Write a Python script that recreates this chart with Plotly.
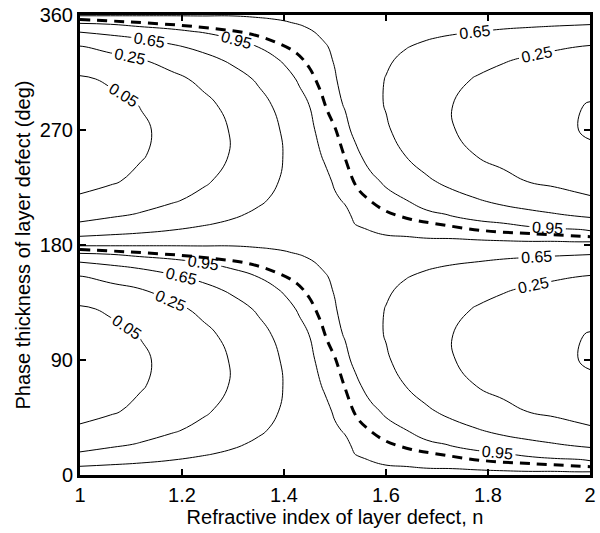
import plotly.graph_objects as go

# Contour levels drawn on the map
levels = [0.05, 0.25, 0.65, 0.95]

# Grid of the mapped quantity: refractive index (columns) by phase thickness (rows, deg).
# The map repeats every 180 deg of phase, so one half-period of rows is listed.
n_grid = [1.00, 1.06, 1.12, 1.18, 1.24, 1.30, 1.35, 1.40, 1.43, 1.46, 1.48, 1.50,
          1.52, 1.54, 1.57, 1.60, 1.64, 1.68, 1.73, 1.78, 1.83, 1.88, 1.93, 1.97, 2.00]
phase_rows = [0, 4, 8, 12, 17, 24, 35, 50, 70, 90, 110, 130, 145, 155, 162, 167,
              171, 174, 177]
value_rows = [
    [0.94, 0.94, 0.94, 0.94, 0.94, 0.94, 0.93, 0.92, 0.91, 0.905, 0.89, 0.88, 0.88, 0.89, 0.90, 0.90, 0.90, 0.90, 0.90, 0.90, 0.90, 0.90, 0.90, 0.90, 0.90],
    [0.79, 0.82, 0.84, 0.86, 0.88, 0.90, 0.92, 0.93, 0.94, 0.94, 0.90, 0.88, 0.885, 0.90, 0.91, 0.92, 0.93, 0.94, 0.94, 0.95, 0.96, 0.97, 0.97, 0.98, 0.98],
    [0.59, 0.65, 0.70, 0.75, 0.80, 0.85, 0.88, 0.91, 0.92, 0.93, 0.90, 0.89, 0.89, 0.91, 0.935, 0.952, 0.96, 0.97, 0.98, 0.99, 0.99, 0.99, 0.99, 0.99, 0.99],
    [0.42, 0.49, 0.56, 0.64, 0.71, 0.78, 0.84, 0.88, 0.91, 0.93, 0.90, 0.89, 0.90, 0.93, 0.955, 0.96, 0.98, 0.99, 0.99, 0.99, 0.99, 0.99, 0.97, 0.96, 0.94],
    [0.27, 0.34, 0.42, 0.51, 0.61, 0.70, 0.78, 0.85, 0.89, 0.92, 0.90, 0.90, 0.91, 0.955, 0.97, 0.98, 0.99, 0.99, 0.99, 0.98, 0.951, 0.91, 0.87, 0.83, 0.80],
    [0.14, 0.20, 0.27, 0.36, 0.47, 0.60, 0.71, 0.81, 0.87, 0.91, 0.905, 0.91, 0.93, 0.97, 0.99, 0.99, 0.99, 0.98, 0.94, 0.88, 0.81, 0.74, 0.67, 0.61, 0.57],
    [0.06, 0.09, 0.14, 0.22, 0.32, 0.46, 0.60, 0.75, 0.83, 0.90, 0.91, 0.935, 0.96, 0.99, 0.99, 0.99, 0.952, 0.88, 0.78, 0.67, 0.56, 0.47, 0.39, 0.33, 0.29],
    [0.03, 0.04, 0.07, 0.12, 0.21, 0.34, 0.50, 0.69, 0.80, 0.90, 0.92, 0.965, 0.99, 0.99, 0.98, 0.93, 0.82, 0.70, 0.55, 0.42, 0.32, 0.24, 0.19, 0.15, 0.13],
    [0.01, 0.03, 0.044, 0.08, 0.14, 0.27, 0.43, 0.66, 0.80, 0.92, 0.965, 0.99, 0.99, 0.98, 0.90, 0.80, 0.64, 0.49, 0.35, 0.24, 0.17, 0.12, 0.09, 0.07, 0.060],
    [0.01, 0.02, 0.040, 0.07, 0.14, 0.27, 0.44, 0.69, 0.84, 0.949, 0.99, 0.99, 0.98, 0.92, 0.82, 0.69, 0.52, 0.39, 0.26, 0.18, 0.13, 0.09, 0.07, 0.052, 0.044],
    [0.02, 0.03, 0.053, 0.10, 0.18, 0.33, 0.53, 0.77, 0.90, 0.98, 0.99, 0.98, 0.94, 0.87, 0.75, 0.63, 0.48, 0.36, 0.252, 0.18, 0.13, 0.09, 0.07, 0.055, 0.047],
    [0.04, 0.06, 0.11, 0.18, 0.31, 0.50, 0.70, 0.89, 0.97, 0.99, 0.99, 0.96, 0.90, 0.84, 0.74, 0.64, 0.52, 0.41, 0.31, 0.23, 0.17, 0.13, 0.10, 0.08, 0.075],
    [0.10, 0.16, 0.24, 0.36, 0.53, 0.72, 0.87, 0.97, 0.99, 0.99, 0.98, 0.94, 0.89, 0.84, 0.76, 0.69, 0.59, 0.50, 0.41, 0.33, 0.27, 0.22, 0.18, 0.15, 0.14],
    [0.23, 0.33, 0.45, 0.59, 0.74, 0.87, 0.952, 0.99, 0.99, 0.99, 0.97, 0.91, 0.87, 0.84, 0.79, 0.74, 0.66, 0.59, 0.52, 0.44, 0.38, 0.33, 0.28, 0.252, 0.23],
    [0.44, 0.56, 0.67, 0.79, 0.89, 0.96, 0.99, 0.99, 0.99, 0.98, 0.93, 0.89, 0.87, 0.86, 0.82, 0.78, 0.73, 0.67, 0.61, 0.55, 0.50, 0.45, 0.41, 0.38, 0.35],
    [0.67, 0.76, 0.85, 0.92, 0.96, 0.99, 0.99, 0.99, 0.98, 0.948, 0.91, 0.885, 0.87, 0.87, 0.84, 0.81, 0.77, 0.74, 0.69, 0.652, 0.60, 0.56, 0.53, 0.50, 0.48],
    [0.86, 0.91, 0.954, 0.98, 0.99, 0.99, 0.99, 0.98, 0.96, 0.93, 0.90, 0.88, 0.87, 0.88, 0.85, 0.84, 0.81, 0.79, 0.76, 0.73, 0.70, 0.67, 0.64, 0.62, 0.60],
    [0.97, 0.98, 0.99, 0.99, 0.99, 0.99, 0.99, 0.96, 0.94, 0.92, 0.895, 0.88, 0.87, 0.88, 0.87, 0.86, 0.84, 0.82, 0.81, 0.79, 0.77, 0.75, 0.73, 0.71, 0.70],
    [0.99, 0.99, 0.99, 0.99, 0.98, 0.98, 0.96, 0.94, 0.92, 0.91, 0.89, 0.88, 0.87, 0.89, 0.88, 0.88, 0.87, 0.86, 0.85, 0.84, 0.83, 0.83, 0.82, 0.81, 0.80],
]

# Locus of full transmission (dashed), phase modulo 180 deg
ridge_n = [1.00, 1.10, 1.195, 1.27, 1.33, 1.382, 1.425, 1.45, 1.47, 1.485,
           1.50, 1.518, 1.543, 1.568, 1.60, 1.65, 1.70, 1.79, 1.89, 2.00]
ridge_phase = [176.5, 174.5, 172.0, 169.0, 165.5, 159.0, 150.0, 138.5, 122.0, 105.0,
               92.0, 70.0, 45.0, 35.0, 26.5, 20.0, 16.5, 11.3, 8.8, 6.5]

x_ticks = [1, 1.2, 1.4, 1.6, 1.8, 2]
y_ticks = [0, 90, 180, 270, 360]

# Two periods of phase, 0..360 deg
phase_full = phase_rows + [p + 180 for p in phase_rows] + [360]
z_full = value_rows + value_rows + [value_rows[0]]

FONT = "Liberation Sans, Arial, Helvetica, sans-serif"

fig = go.Figure()
for lv in levels:
    fig.add_trace(go.Contour(
        x=n_grid, y=phase_full, z=z_full,
        contours=dict(start=lv, end=lv, size=1, coloring="none",
                      showlabels=True,
                      labelfont=dict(family=FONT, size=16, color="black")),
        line=dict(color="black", width=1),
        showscale=False, hoverinfo="skip", line_smoothing=1.3,
    ))

for k in (0, 180):
    fig.add_trace(go.Scatter(
        x=ridge_n, y=[p + k for p in ridge_phase], mode="lines",
        line=dict(color="black", width=3, dash="10px,7px", shape="spline"),
        hoverinfo="skip", showlegend=False,
    ))

axis_common = dict(
    showline=True, linecolor="black", linewidth=3, mirror="ticks",
    ticks="inside", ticklen=6, tickwidth=2, tickcolor="black",
    showgrid=False, zeroline=False,
    tickfont=dict(family=FONT, size=20, color="black"),
)
fig.update_xaxes(range=[1, 2], tickvals=x_ticks,
                 ticktext=[f"{t:g}" for t in x_ticks],
                 title=dict(text="Refractive index of layer defect, n",
                            font=dict(family=FONT, size=20, color="black"),
                            standoff=4),
                 **axis_common)
fig.update_yaxes(range=[0, 360], tickvals=y_ticks,
                 ticktext=[str(t) for t in y_ticks],
                 title=dict(text="Phase thickness of layer defect (deg)",
                            font=dict(family=FONT, size=20, color="black"),
                            standoff=4),
                 **axis_common)
fig.update_layout(
    width=600, height=533, showlegend=False,
    margin=dict(l=80, r=4, t=14, b=58),
    paper_bgcolor="white", plot_bgcolor="white",
)
fig.write_html("out.html")
